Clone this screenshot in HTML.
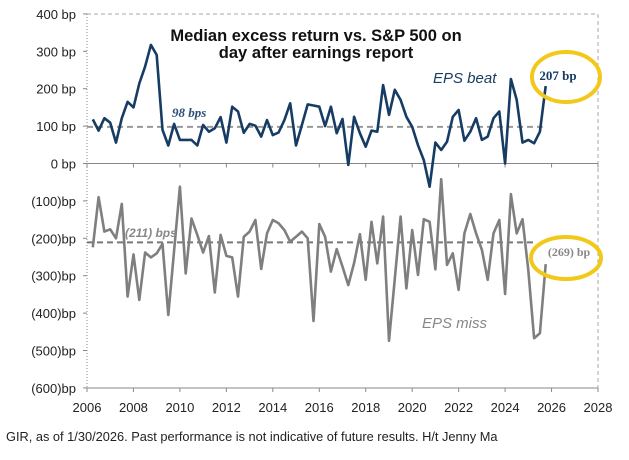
<!DOCTYPE html>
<html><head><meta charset="utf-8"><style>
body{margin:0;background:#fff;}
svg{display:block;font-family:"Liberation Sans",sans-serif;}
</style></head><body>
<svg id="chart" width="629" height="460"></svg>
<script>
const yTicks=[400,300,200,100,0,-100,-200,-300,-400,-500,-600];
const yTickLabels=["400 bp","300 bp","200 bp","100 bp","0 bp","(100)bp","(200)bp","(300)bp","(400)bp","(500)bp","(600)bp"];
const xTicks=[2006,2008,2010,2012,2014,2016,2018,2020,2022,2024,2026,2028];
const startYear=2006.25;
const beatValues=[118,88,121,109,56,121,165,150,214,259,317,290,90,48,106,63,63,63,48,103,85,94,124,56,152,139,82,106,101,72,116,76,83,116,161,48,103,158,155,152,100,152,81,119,-4,125,81,45,88,85,210,130,197,170,125,98,49,9,-62,56,36,58,125,143,61,85,121,63,72,121,139,0,226,170,56,63,54,85,207];
const missValues=[-224,-90,-182,-176,-200,-108,-356,-243,-365,-238,-251,-240,-215,-405,-233,-62,-294,-147,-191,-238,-194,-345,-191,-247,-251,-356,-196,-182,-151,-282,-187,-151,-160,-178,-209,-196,-182,-200,-421,-162,-196,-289,-229,-276,-325,-266,-189,-311,-156,-267,-142,-474,-308,-142,-334,-178,-298,-149,-156,-283,-42,-271,-240,-338,-187,-135,-187,-231,-311,-187,-151,-349,-82,-187,-149,-285,-467,-454,-269];
const beatMean=98, missMean=-211;

const svg=document.getElementById('chart');
const NS='http://www.w3.org/2000/svg';
const X0=87,X1=598,Y0=163.5,PPU=0.374;
const xS=y=>X0+(y-2006)*(X1-X0)/22;
const yS=v=>Y0-v*PPU;
function mk(tag,attrs,text){const e=document.createElementNS(NS,tag);for(const k in attrs)e.setAttribute(k,attrs[k]);if(text!==undefined)e.textContent=text;svg.appendChild(e);return e;}

let e=mk('line',{x1:X0,y1:14,x2:X1,y2:14,stroke:'#aaa','stroke-dasharray':'4,3','stroke-width':1});

e=mk('line',{x1:X1,y1:14,x2:X1,y2:388,stroke:'#aaa','stroke-dasharray':'4,3','stroke-width':1});

e=mk('line',{x1:X0,y1:14,x2:X0,y2:388,stroke:'#888','stroke-dasharray':'1,2','stroke-width':1});

e=mk('line',{x1:X0,y1:yS(0),x2:X1,y2:yS(0),stroke:'#888','stroke-width':1});

e=mk('line',{x1:X0,y1:388,x2:X1,y2:388,stroke:'#888','stroke-width':1});


yTicks.forEach((v,i)=>{
  const t=mk('line',{x1:X0-4,y1:yS(v),x2:X0,y2:yS(v),stroke:'#888'});
  
  const l=mk('text',{x:X0-11,y:yS(v)+5,'text-anchor':'end','font-size':13,fill:'#222'},yTickLabels[i]);
  
});
xTicks.forEach(yr=>{
  const t=mk('line',{x1:xS(yr),y1:388,x2:xS(yr),y2:392,stroke:'#888'});
  
  const t2=mk('line',{x1:xS(yr),y1:yS(0),x2:xS(yr),y2:yS(0)+4,stroke:'#888'});
  
  const l=mk('text',{x:xS(yr),y:412,'text-anchor':'middle','font-size':13,fill:'#222'},String(yr));
  
});

const lastX=xS(startYear+(beatValues.length-1)*0.25);
e=mk('line',{x1:X0,y1:yS(beatMean),x2:lastX-3,y2:yS(beatMean),stroke:'#999','stroke-width':2,'stroke-dasharray':'6,4'});

e=mk('line',{x1:X0,y1:yS(missMean),x2:lastX-10,y2:yS(missMean),stroke:'#777','stroke-width':2,'stroke-dasharray':'6,4'});


function pts(arr){return arr.map((v,i)=>xS(startYear+i*0.25).toFixed(1)+','+yS(v).toFixed(1)).join(' ');}
e=mk('polyline',{points:pts(missValues),fill:'none',stroke:'#7f7f7f','stroke-width':2.6,'stroke-linejoin':'round'});

e=mk('polyline',{points:pts(beatValues),fill:'none',stroke:'#173c63','stroke-width':2.6,'stroke-linejoin':'round'});


e=mk('text',{x:316,y:41,'text-anchor':'middle','font-size':16.5,'font-weight':'bold',fill:'#111'},'Median excess return vs. S&P 500 on');

e=mk('text',{x:316,y:58,'text-anchor':'middle','font-size':16.5,'font-weight':'bold',fill:'#111'},'day after earnings report');

e=mk('text',{x:433,y:83,'font-size':15,'font-style':'italic',fill:'#173c63'},'EPS beat');

e=mk('text',{x:422,y:328,'font-size':15,'font-style':'italic',fill:'#888'},'EPS miss');

e=mk('text',{x:172,y:117,'font-size':13,'font-style':'italic','font-weight':'bold','font-family':'Liberation Serif,serif',fill:'#2c4f75'},'98 bps');

e=mk('text',{x:125,y:237,'font-size':12,'font-style':'italic','font-weight':'bold',fill:'#888'},'(211) bps');

e=mk('ellipse',{cx:566,cy:77,rx:34,ry:25,fill:'none',stroke:'#f2c81b','stroke-width':4});

e=mk('text',{x:558,y:80,'text-anchor':'middle','font-size':13,'font-weight':'bold','font-family':'Liberation Serif,serif',fill:'#173c63'},'207 bp');

e=mk('ellipse',{cx:566,cy:258,rx:35,ry:21,fill:'none',stroke:'#f2c81b','stroke-width':4});

e=mk('text',{x:569,y:256,'text-anchor':'middle','font-size':12,'font-weight':'bold','font-family':'Liberation Serif,serif',fill:'#888'},'(269) bp');

e=mk('text',{x:6,y:441,'font-size':12.8,fill:'#222'},'GIR, as of 1/30/2026. Past performance is not indicative of future results. H/t Jenny Ma');

</script>
</body></html>
